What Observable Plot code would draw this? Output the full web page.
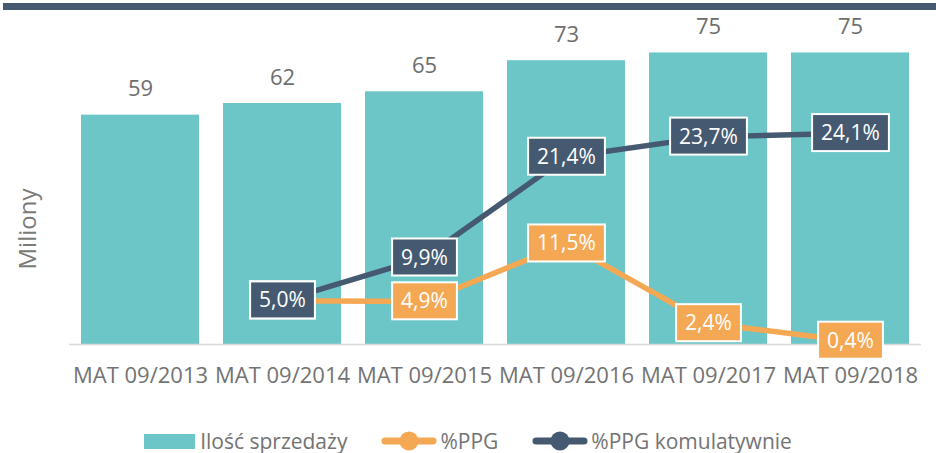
<!DOCTYPE html>
<html>
<head>
<meta charset="utf-8">
<script src="https://cdn.jsdelivr.net/npm/d3@7"></script>
<script src="https://cdn.jsdelivr.net/npm/@observablehq/plot@0.6"></script>
<style>
  html, body { margin: 0; padding: 0; background: #fff; overflow: hidden; }
  body { width: 936px; height: 453px; position: relative; font-family: "Open Sans", sans-serif; }
  #band { position: absolute; top: 3px; left: 3px; right: 0; height: 7px; background: #455a71; }
  #chart svg { display: block; }
  #ytitle { position: absolute; left: 27px; top: 229px; transform: translate(-50%, -50%) rotate(-90deg);
            font-size: 24px; color: #7a7a7a; white-space: nowrap; line-height: 1; }
  .legend { display: flex; justify-content: center; align-items: center; height: 22px; margin-top: 20px;
            font-size: 21px; line-height: 1; color: #737373; }
  .item { display: flex; align-items: center; margin: 0 17px; }
  .item .lab { margin-left: 5px; white-space: nowrap; }
  .sw { display: inline-block; width: 51px; height: 15px; background: #6cc5c6; }
</style>
</head>
<body>
<div id="band"></div>
<div id="chart"></div>
<div class="legend" id="legend"></div>
<div id="ytitle"></div>
<script>
// ---- data ----
const categories = ["MAT 09/2013", "MAT 09/2014", "MAT 09/2015", "MAT 09/2016", "MAT 09/2017", "MAT 09/2018"];
const sales = [59, 62, 65, 73, 75, 75];              // Ilość sprzedaży (miliony)
const ppg = [null, 5.0, 4.9, 11.5, 2.4, 0.4];        // %PPG
const ppgCum = [null, 5.0, 9.9, 21.4, 23.7, 24.1];   // %PPG komulatywnie
const seriesNames = ["Ilość sprzedaży", "%PPG", "%PPG komulatywnie"];
const yTitle = "Miliony";
const salesAxisMax = 80;   // primary axis maximum
const pctAxisMax = 35.5;   // secondary axis maximum (%)

// ---- colours ----
const teal = "#6cc5c6", orange = "#f5a854", dark = "#455a71", grey = "#737373";

const salesData = categories.map((c, i) => ({cat: c, v: sales[i]}));
const toPrimary = p => p * salesAxisMax / pctAxisMax;
const fmtPct = p => p.toFixed(1).replace(".", ",") + "%";
const ppgData = categories.map((c, i) => ({cat: c, p: ppg[i]})).filter(d => d.p != null)
  .map(d => ({...d, y: toPrimary(d.p)}));
const cumData = categories.map((c, i) => ({cat: c, p: ppgCum[i]})).filter(d => d.p != null)
  .map(d => ({...d, y: toPrimary(d.p)}));

const chart = Plot.plot({
  width: 936,
  height: 410,
  marginLeft: 69,
  marginRight: 15,
  marginTop: 33,
  marginBottom: 66,
  style: {fontFamily: "Open Sans", fontSize: "22px", color: grey, background: "white"},
  x: {domain: categories, paddingInner: 0.17, paddingOuter: 0.085},
  y: {domain: [0, salesAxisMax], axis: null},
  marks: [
    Plot.barY(salesData, {x: "cat", y: "v", fill: teal}),
    Plot.ruleY([0], {stroke: "#d9d9d9", strokeWidth: 1.5}),
    Plot.axisX({tickSize: 0, tickPadding: 23, fontSize: 22, fill: grey, label: null}),
    Plot.text(salesData, {x: "cat", y: "v", text: d => String(d.v), dy: -26, fill: "#6d6d6d", fontSize: 22}),
    Plot.line(ppgData, {x: "cat", y: "y", stroke: orange, strokeWidth: 5.5}),
    Plot.line(cumData, {x: "cat", y: "y", stroke: dark, strokeWidth: 5.5}),
    Plot.text(ppgData, {x: "cat", y: "y", text: d => fmtPct(d.p), fill: "white", fontSize: 21}),
    Plot.text(cumData, {x: "cat", y: "y", text: d => fmtPct(d.p), fill: "white", fontSize: 21})
  ]
});
document.getElementById("chart").appendChild(chart);
document.getElementById("ytitle").textContent = yTitle;

// label boxes behind the percentage texts: first group of % texts = %PPG, second = cumulative
function drawBoxes() {
  const svgNS = "http://www.w3.org/2000/svg";
  const groups = [];
  chart.querySelectorAll("text").forEach(t => {
    if (/%$/.test(t.textContent.trim())) {
      const g = t.parentNode;
      if (!groups.includes(g)) groups.push(g);
    }
  });
  const colors = [orange, dark];
  groups.forEach((g, gi) => {
    Array.from(g.querySelectorAll("text")).forEach(t => {
      const b = t.getBBox();
      const padX = 9, h = 37;
      const cy = b.y + b.height / 2 + 0.5;
      const r = document.createElementNS(svgNS, "rect");
      r.setAttribute("x", b.x - padX);
      r.setAttribute("y", cy - h / 2);
      r.setAttribute("width", b.width + 2 * padX);
      r.setAttribute("height", h);
      r.setAttribute("fill", colors[gi] || dark);
      r.setAttribute("stroke", "white");
      r.setAttribute("stroke-width", 2);
      const tr = t.getAttribute("transform");
      if (tr) r.setAttribute("transform", tr);
      g.insertBefore(r, t);
    });
  });
}
drawBoxes();

// legend
const legend = document.getElementById("legend");
const lineMarker = c => `<svg width="56" height="22"><line x1="4" y1="11" x2="52" y2="11" stroke="${c}" stroke-width="7" stroke-linecap="round"/><circle cx="28" cy="11" r="9.5" fill="${c}"/></svg>`;
legend.innerHTML =
  `<div class="item"><span class="sw"></span><span class="lab">${seriesNames[0]}</span></div>` +
  `<div class="item">${lineMarker(orange)}<span class="lab" style="margin-left:3px">${seriesNames[1]}</span></div>` +
  `<div class="item">${lineMarker(dark)}<span class="lab" style="margin-left:3px">${seriesNames[2]}</span></div>`;
</script>
</body>
</html>
